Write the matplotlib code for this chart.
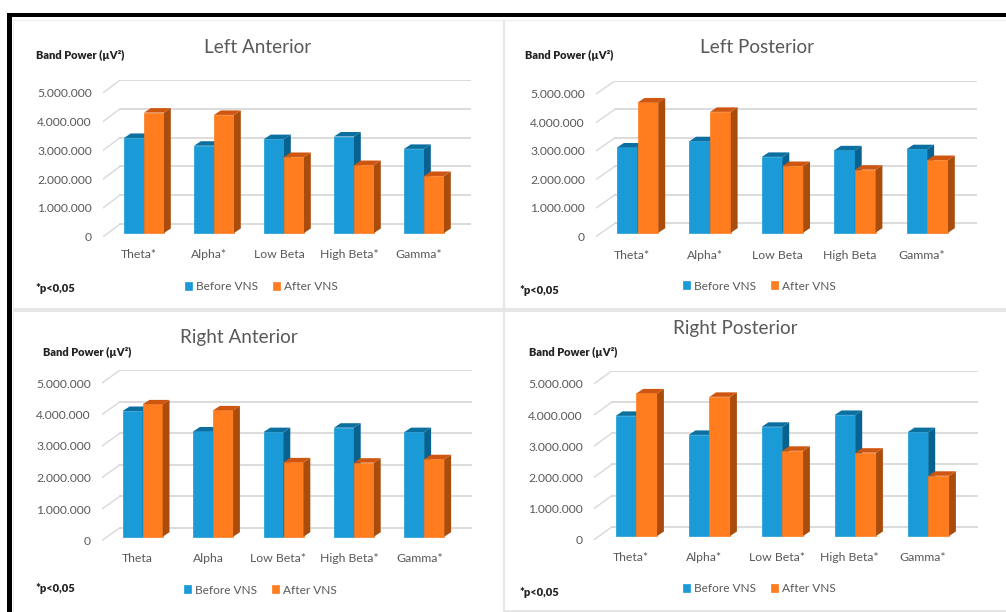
import numpy as np
import matplotlib
matplotlib.use("Agg")
import matplotlib.pyplot as plt
from matplotlib.patches import Rectangle

plt.rcParams['font.family'] = ['Lato', 'DejaVu Sans']

W = 1006
H = 612

series_names = ["Before VNS", "After VNS"]
tick_values = [0, 1000000, 2000000, 3000000, 4000000, 5000000]

la_title = "Left Anterior"
la_cats = ["Theta*", "Alpha*", "Low Beta", "High Beta*", "Gamma*"]
la_before = [3300000, 3030000, 3260000, 3350000, 2920000]
la_after = [4180000, 4100000, 2640000, 2360000, 1980000]

lp_title = "Left Posterior"
lp_cats = ["Theta*", "Alpha*", "Low Beta", "High Beta", "Gamma*"]
lp_before = [2990000, 3210000, 2660000, 2890000, 2930000]
lp_after = [4570000, 4240000, 2340000, 2210000, 2550000]

ra_title = "Right Anterior"
ra_cats = ["Theta", "Alpha", "Low Beta*", "High Beta*", "Gamma*"]
ra_before = [3990000, 3340000, 3320000, 3460000, 3320000]
ra_after = [4200000, 4010000, 2360000, 2350000, 2460000]

rp_title = "Right Posterior"
rp_cats = ["Theta*", "Alpha*", "Low Beta*", "High Beta*", "Gamma*"]
rp_before = [3850000, 3240000, 3500000, 3880000, 3330000]
rp_after = [4570000, 4460000, 2730000, 2670000, 1930000]

BLUE = ["#1a9ad6", "#0b6f9f", "#07628f"]
ORANGE = ["#ff7c1f", "#cf5610", "#a94c0c"]
GRID = "#d9d9d9"
GREY = "#595959"

fig = plt.figure(figsize=(W / 100, H / 100), dpi=100, facecolor="white")


def fx(px):
    return px / W


def fy(py):
    return 1 - py / H


def block(x0, y0, x1, y1, color):
    fig.add_artist(Rectangle((fx(x0), fy(y1)), (x1 - x0) / W, (y1 - y0) / H,
                             transform=fig.transFigure, facecolor=color, edgecolor="none"))


# outer frame and panel separators
block(13, 20, 1006, 21, "#ececec")
block(13, 20, 14, 612, "#ececec")
block(503, 20, 505, 612, "#e6e6e6")
block(13, 308, 1006, 312, "#e6e6e6")
block(503, 610, 1006, 612, "#e6e6e6")
block(7, 13, 1006, 17, "black")
block(7, 13, 12, 612, "black")


def draw_bar3d(ax, xs, vals, w, dx, dy, colors):
    bars = ax.bar(xs, vals, width=w, color=colors[0], edgecolor=colors[0], linewidth=0.5, zorder=3)
    for x, v in zip(xs, vals):
        r = x + w / 2
        l = x - w / 2
        ax.fill([r, r + dx, r + dx, r], [0, dy, v + dy, v], color=colors[2], lw=0, zorder=3)
        ax.fill([l, l + dx, r + dx, r], [v, v + dy, v + dy, v], color=colors[1], lw=0, zorder=3)
    return bars


def draw_panel(title, cats, before, after, lay):
    scale = lay["scale"]
    base = lay["base"]
    drop = 3.8
    back = (base - lay["back0"]) * 1e6 / scale
    y_low = -drop * 1e6 / scale
    y_high = (base - lay["back0"] + 5 * scale) * 1e6 / scale

    top_px = base - y_high * scale / 1e6
    bot_px = base + drop
    ax = fig.add_axes([fx(lay["left"]), fy(bot_px), (lay["right"] - lay["left"]) / W, (bot_px - top_px) / H])
    ax.patch.set_alpha(0)
    for s in ax.spines.values():
        s.set_visible(False)

    x0 = lay["start"] + lay["width"]
    sp = lay["spacing"]
    ax.set_xlim((lay["left"] - x0) / sp, (lay["right"] - x0) / sp)
    ax.set_ylim(y_low, y_high)

    w = lay["width"] / sp
    dx = 6.8 / sp
    dy = 4.5 * 1e6 / scale
    wall = (lay["wall"] - x0) / sp
    xl = ax.get_xlim()

    for v in tick_values:
        ax.plot([wall, xl[1]], [v + back, v + back], color=GRID, lw=1.3, zorder=1)
        ax.plot([xl[0], wall], [v + y_low, v + back], color=GRID, lw=1.0, zorder=1)

    x = np.arange(len(cats))
    b1 = draw_bar3d(ax, x - w / 2, before, w, dx, dy, BLUE)
    b2 = draw_bar3d(ax, x + w / 2, after, w, dx, dy, ORANGE)

    ax.set_xticks(x + lay["shift"] / sp)
    ax.set_xticklabels(cats, fontsize=8.8, color=GREY)
    ax.set_yticks([v + y_low for v in tick_values])
    ax.set_yticklabels([f"{v:,}".replace(",", ".") for v in tick_values], fontsize=8.7, color=GREY)
    ax.tick_params(axis="x", length=0, pad=lay["xpad"])
    ax.tick_params(axis="y", length=0, pad=8)

    fig.text(fx(lay["title"][0]), fy(lay["title"][1] + 1.5), title, fontsize=13.6, color=GREY, ha="center", va="center")
    fig.text(fx(lay["band"][0]), fy(lay["band"][1]), "Band Power (µV²)", fontsize=7.9, fontweight="heavy",
             color="#222222", ha="left", va="center")
    fig.text(fx(lay["p"][0]), fy(lay["p"][1]), "*p<0,05", fontsize=8, fontweight="heavy",
             color="#222222", ha="left", va="center")

    ax.legend([b1, b2], series_names, loc="center", ncol=2, frameon=False, fontsize=8.6, labelcolor=GREY,
              bbox_to_anchor=(fx(lay["legend"][0] + 75.5), fy(lay["legend"][1])),
              bbox_transform=fig.transFigure, handlelength=0.6, handleheight=0.6,
              handletextpad=0.35, columnspacing=1.2, borderpad=0, borderaxespad=0)


la_layout = dict(left=103, right=471, wall=120, start=124, width=20, spacing=70, base=233, back0=224, scale=28.8,
                 shift=-5, xpad=9, title=(258, 46), band=(36, 55), p=(35, 288), legend=(186, 287))
lp_layout = dict(left=596, right=977, wall=615, start=617, width=20.7, spacing=72.4, base=232.7, back0=223.3, scale=28.5,
                 shift=-5.5, xpad=10, title=(757, 46), band=(525, 55), p=(519, 291), legend=(684, 286))
ra_layout = dict(left=102, right=472, wall=120, start=122.7, width=20, spacing=70.4, base=536.7, back0=527.7, scale=31.5,
                 shift=-5, xpad=9, title=(239, 336), band=(43, 352), p=(35, 589), legend=(185, 590))
rp_layout = dict(left=594, right=978, wall=612, start=615.7, width=20.7, spacing=73, base=536, back0=526.7, scale=31.2,
                 shift=-5.7, xpad=9, title=(735, 327), band=(529, 352), p=(519, 592), legend=(684, 589))

draw_panel(la_title, la_cats, la_before, la_after, la_layout)
draw_panel(lp_title, lp_cats, lp_before, lp_after, lp_layout)
draw_panel(ra_title, ra_cats, ra_before, ra_after, ra_layout)
draw_panel(rp_title, rp_cats, rp_before, rp_after, rp_layout)

fig.savefig("out.png", dpi=100)
